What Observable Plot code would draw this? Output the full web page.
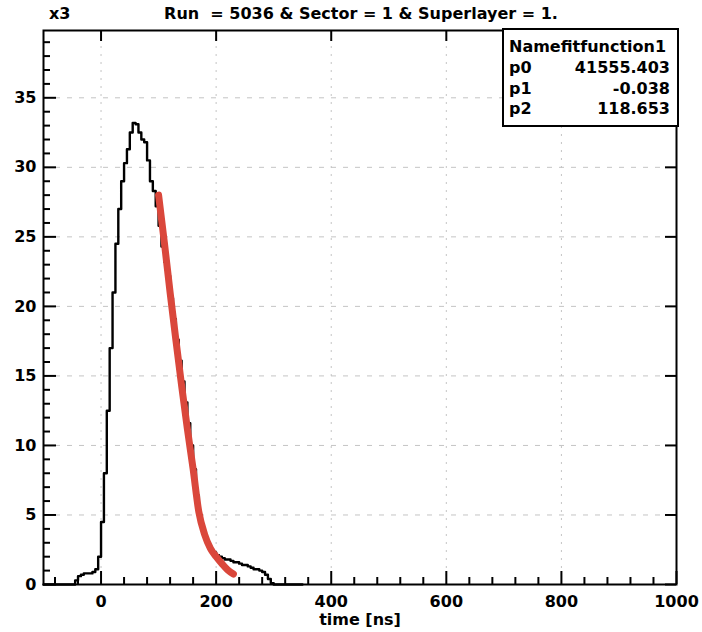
<!DOCTYPE html>
<html>
<head>
<meta charset="utf-8">
<script src="https://cdn.jsdelivr.net/npm/d3@7"></script>
<script src="https://cdn.jsdelivr.net/npm/@observablehq/plot@0.6"></script>
<style>
  body { margin: 0; background: #fff; }
  #wrap { position: relative; width: 702px; height: 632px; font-family: "DejaVu Sans", sans-serif; font-weight: bold; font-size: 16px; color: #000; }
  .abs { position: absolute; line-height: 20px; white-space: nowrap; }
  #legend { position: absolute; left: 502px; top: 28px; width: 173px; height: 95px; border: 2px solid #000; background: #fff; box-sizing: content-box; }
  #legend .row { position: absolute; left: 5px; right: 7px; line-height: 20px; display: flex; justify-content: space-between; }
</style>
</head>
<body>
<div id="wrap">
  <div id="chart"></div>
  <div class="abs" style="left:49px; top:4px;">x3</div>
  <div class="abs" style="left:0; width:722px; text-align:center; top:4px;">Run&nbsp; = 5036 &amp; Sector = 1 &amp; Superlayer = 1.</div>
  <div id="legend"></div>
</div>
<script>
// ---- data ----
const histTime = [-100, -45, -40, -35, -30, -25, -20, -15, -10, -5, 0, 5, 10, 15, 20, 25, 30, 35, 40, 45,
  50, 55, 60, 65, 70, 75, 80, 85, 90, 95, 100, 105, 110, 115, 120, 125, 130, 135, 140, 145,
  150, 155, 160, 165, 170, 175, 180, 185, 190, 195, 200, 205, 210, 215, 220, 225, 230, 235, 240, 245,
  250, 255, 260, 265, 270, 275, 280, 285, 290, 295, 300, 350];
const histCounts = [0, 0.3, 0.6, 0.7, 0.8, 0.8, 0.8, 0.9, 1.1, 2.0, 4.5, 8.0, 12.5, 17.0, 21.0, 24.5, 27.0, 29.0, 30.3, 31.3,
  32.5, 33.2, 33.1, 32.5, 32.0, 31.8, 30.5, 29.0, 28.3, 27.2, 25.8, 24.3, 23.2, 22.2, 20.6, 19.1, 17.6, 16.1, 14.6, 13.1,
  11.6, 10.0, 8.3, 6.4, 5.0, 4.0, 3.3, 2.8, 2.5, 2.3, 2.1, 2.0, 1.9, 1.8, 1.8, 1.7, 1.6, 1.6, 1.5, 1.4,
  1.4, 1.3, 1.2, 1.1, 1.1, 1.0, 0.9, 0.7, 0.4, 0.1, 0, 0];

const fitTime = [100, 110, 120, 130, 140, 150, 160, 170, 180, 190, 200, 210, 220, 230];
const fitValue = [28.0, 24.6, 21.0, 17.6, 14.3, 11.2, 8.3, 5.2, 3.6, 2.6, 2.0, 1.5, 1.05, 0.75];

const xMajorTicks = [0, 200, 400, 600, 800, 1000];
const xMinorTicks = [-80, -40, 40, 80, 120, 160, 240, 280, 320, 360, 440, 480, 520, 560, 640, 680, 720, 760, 840, 880, 920, 960];
const yMajorTicks = [0, 5, 10, 15, 20, 25, 30, 35];
const yMinorTicks = [1, 2, 3, 4, 6, 7, 8, 9, 11, 12, 13, 14, 16, 17, 18, 19, 21, 22, 23, 24, 26, 27, 28, 29, 31, 32, 33, 34, 36, 37, 38, 39];
const xGrid = [0, 200, 400, 600, 800];
const yGrid = [5, 10, 15, 20, 25, 30, 35];

const titleText = "Run  = 5036 & Sector = 1 & Superlayer = 1.";
const xLabel = "time [ns]";
const legendNames = ["Namefitfunction1", "p0", "p1", "p2"];
const legendValues = ["", "41555.403", "-0.038", "118.653"];

// ---- build ----
const hist = histTime.map((t, i) => ({t, c: histCounts[i]}));
const fit = fitTime.map((t, i) => ({t, v: fitValue[i]}));

const W = 702, H = 632, mL = 43, mR = 26, mT = 30, mB = 48;
const fw = W - mL - mR, fh = H - mT - mB;

const chart = Plot.plot({
  width: W, height: H,
  marginLeft: mL, marginRight: mR, marginTop: mT, marginBottom: mB,
  style: {fontFamily: "DejaVu Sans, sans-serif", fontWeight: "bold", fontSize: "16px", color: "black", background: "white", overflow: "visible"},
  x: {domain: [-100, 1000]},
  y: {domain: [0, 39.84]},
  marks: [
    Plot.gridX(xGrid, {stroke: "#c4c4c4", strokeOpacity: 1, strokeDasharray: "2,6"}),
    Plot.gridY(yGrid, {stroke: "#c4c4c4", strokeOpacity: 1, strokeDasharray: "5,7"}),
    Plot.line(hist, {x: "t", y: "c", curve: "step-after", stroke: "black", strokeWidth: 2.4}),
    Plot.line(fit, {x: "t", y: "v", curve: "monotone-x", stroke: "#da473b", strokeWidth: 7}),
    Plot.tickX(xMajorTicks, {insetTop: fh - 13, stroke: "black", strokeWidth: 2}),
    Plot.tickX(xMinorTicks, {insetTop: fh - 7, stroke: "black", strokeWidth: 2}),
    Plot.tickX(xMajorTicks, {insetBottom: fh - 11, stroke: "black", strokeWidth: 2}),
    Plot.tickY(yMajorTicks, {insetRight: fw - 13, stroke: "black", strokeWidth: 2}),
    Plot.tickY(yMinorTicks, {insetRight: fw - 7, stroke: "black", strokeWidth: 2}),
    Plot.tickY(yMajorTicks, {insetLeft: fw - 11, stroke: "black", strokeWidth: 2}),
    Plot.frame({stroke: "black", strokeWidth: 2}),
    Plot.axisX(xMajorTicks, {tickSize: 0, tickPadding: 11, label: null, fill: "black", tickFormat: d => String(d)}),
    Plot.axisY(yMajorTicks, {tickSize: 0, tickPadding: 7, label: null, fill: "black", tickFormat: d => String(d)}),
    Plot.text([xLabel], {frameAnchor: "bottom", dy: 40, fill: "black"})
  ]
});
document.getElementById("chart").appendChild(chart);

const legend = document.getElementById("legend");
const tops = [7, 28, 49, 69];
legendNames.forEach((n, i) => {
  const row = document.createElement("div");
  row.className = "row";
  row.style.top = tops[i] + "px";
  const a = document.createElement("span"); a.textContent = n;
  const b = document.createElement("span"); b.textContent = legendValues[i];
  row.appendChild(a); row.appendChild(b);
  legend.appendChild(row);
});
</script>
</body>
</html>
